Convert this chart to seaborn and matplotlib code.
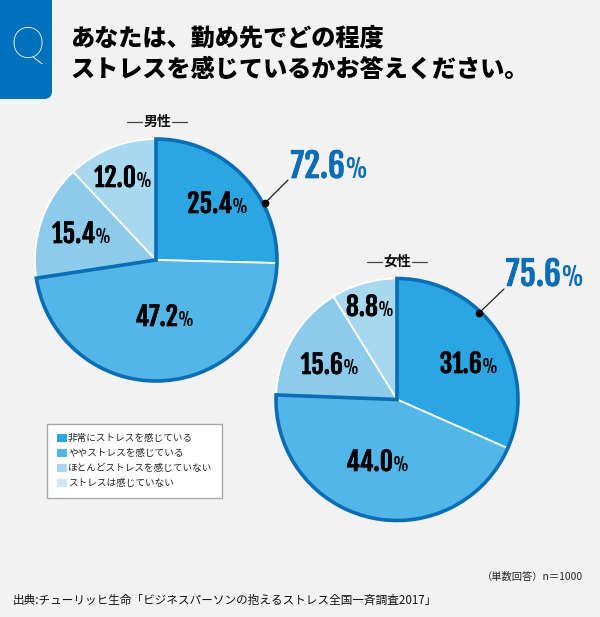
import matplotlib
matplotlib.use('Agg')
import matplotlib.pyplot as plt
import matplotlib.patheffects as pe
import seaborn as sns
from matplotlib import font_manager as fm
from matplotlib.patches import FancyBboxPatch, Patch

sns.set_theme(style='white')
JP = ['Noto Sans CJK JP', 'DejaVu Sans']
plt.rcParams['font.family'] = JP

installed = {f.name for f in fm.fontManager.ttflist}


def first_font(*names):
    return next((n for n in names if n in installed), 'Liberation Sans')


NARROW = first_font('Fjalla One', 'Roboto Condensed', 'Archivo Narrow', 'Liberation Sans Narrow')
ROUND_Q = first_font('Poppins', 'Lato', 'Roboto')

W, H = 600, 617
BG = '#f2f2f2'
DARK = '#0a6db5'

categories = ['非常にストレスを感じている', 'ややストレスを感じている',
              'ほとんどストレスを感じていない', 'ストレスは感じていない']
male_values = [25.4, 47.2, 15.4, 12.0]
female_values = [31.6, 44.0, 15.6, 8.8]
male_total = 72.6
female_total = 75.6
title_lines = ['あなたは、勤め先でどの程度', 'ストレスを感じているかお答えください。']
source_text = '出典:チューリッヒ生命「ビジネスパーソンの抱えるストレス全国一斉調査2017」'
note_text = '（単数回答）n＝1000'

pie_colors = sns.color_palette(['#2aa7e2', '#52b7e8', '#8ccbec', '#a8d8f0'])
legend_colors = sns.color_palette(['#2aa7e2', '#52b7e8', '#a6d6f0', '#c9e8f7'])

fig = plt.figure(figsize=(W / 100, H / 100), dpi=100, facecolor=BG)

# overlay in pixel coords, y going down like the picture
bg = fig.add_axes([0, 0, 1, 1], zorder=3)
bg.set_xlim(0, W)
bg.set_ylim(H, 0)
bg.axis('off')


def draw_pie(values, cx, cy, r=121, pad=135):
    ax = fig.add_axes([(cx - pad) / W, 1 - (cy + pad) / H, 2 * pad / W, 2 * pad / H], zorder=1)
    ax.pie(values, colors=pie_colors, startangle=90, counterclock=False, radius=1,
           wedgeprops=dict(edgecolor='white', linewidth=1.3))
    # heavy outline round the "stressed" part
    stressed = values[0] + values[1]
    outline, _ = ax.pie([stressed, 100 - stressed], colors=['none', 'none'], startangle=90,
                        counterclock=False, radius=1,
                        wedgeprops=dict(edgecolor=DARK, linewidth=2.6, joinstyle='miter'))
    outline[1].set_visible(False)
    ax.set_xlim(-pad / r, pad / r)
    ax.set_ylim(-pad / r, pad / r)
    ax.set_aspect('equal')
    ax.axis('off')
    return ax


draw_pie(male_values, 156, 260)
draw_pie(female_values, 397, 399.5)


def pct(x, y, value, big=18.5, small=12.5, color='black', gap=0):
    # number ends at x, the smaller % sign starts there; y is the baseline
    heavy = [pe.withStroke(linewidth=0.45, foreground=color)]
    bg.text(x, y, f'{value:.1f}', ha='right', va='baseline', fontsize=big,
            family=NARROW, color=color, path_effects=heavy)
    bg.text(x + gap, y, '%', ha='left', va='baseline', fontsize=small,
            family=NARROW, color=color)


for v, (x, y) in zip(male_values, [(232, 213), (178, 326), (95, 243), (136, 187)]):
    pct(x, y, v)
for v, (x, y) in zip(female_values, [(482, 373), (393, 471), (343, 374), (378, 316)]):
    pct(x, y, v)
pct(345, 178, male_total, big=24, small=18, color=DARK, gap=-1)
pct(561, 286, female_total, big=24, small=18, color=DARK, gap=-1)

# leader lines
bg.plot([265, 288], [203, 180], color='#222222', lw=0.9)
bg.plot([265], [203], 'o', color='black', ms=4.5)
bg.plot([479, 504], [313, 289], color='#222222', lw=0.9)
bg.plot([479], [313], 'o', color='black', ms=4.5)

# sub headings
for label, x, y in [('男性', 157, 122), ('女性', 397, 262)]:
    bg.text(x, y, label, ha='center', va='center', fontsize=10, fontweight='bold', color='#111111')
    bg.plot([x - 30, x - 15], [y, y], color='#444444', lw=0.9)
    bg.plot([x + 15, x + 30], [y, y], color='#444444', lw=0.9)

# Q badge
bg.add_patch(FancyBboxPatch((-20, -20), 72, 119, boxstyle='round,pad=0,rounding_size=8',
                            facecolor='#0071bc', edgecolor='none'))
bg.text(27, 48, 'Q', ha='center', va='center', fontsize=31, color='white',
        family=ROUND_Q, fontweight='light')

# title
bg.text(70, 38, title_lines[0], ha='left', va='center', fontsize=17.4, fontweight='black', color='black')
bg.text(70, 70, title_lines[1], ha='left', va='center', fontsize=17.4, fontweight='black', color='black')

# legend
handles = [Patch(facecolor=c, edgecolor='none', label=t) for c, t in zip(legend_colors, categories)]
leg = bg.legend(handles=handles, loc='upper left', bbox_to_anchor=(47 / W, 1 - 424 / H),
                bbox_transform=fig.transFigure, fontsize=6.9, frameon=True, fancybox=False,
                edgecolor='#a8a8a8', facecolor='white', framealpha=1, borderaxespad=0,
                handlelength=1.05, handleheight=1.05, handletextpad=0.15, labelspacing=0.55,
                borderpad=1.0)
leg.get_frame().set_linewidth(1.0)
for t in leg.get_texts():
    t.set_color('#222222')

# footer
bg.text(583, 577, note_text, ha='right', va='center', fontsize=7.4, color='#222222')
bg.text(13, 600, source_text, ha='left', va='center', fontsize=8.35, color='#111111')

fig.savefig('out.png', dpi=100, facecolor=BG)
